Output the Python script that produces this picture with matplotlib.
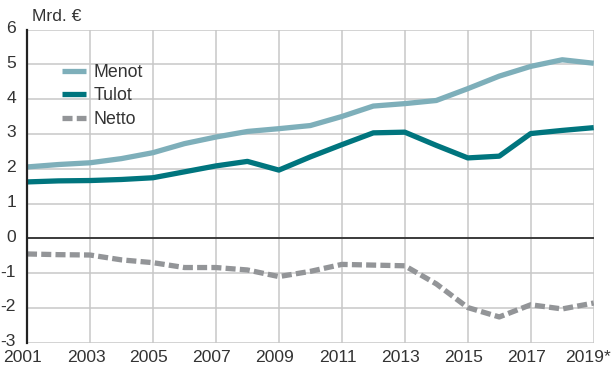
import matplotlib
matplotlib.use("Agg")
import matplotlib.pyplot as plt
from matplotlib.transforms import ScaledTranslation

years = list(range(2001, 2020))
menot = [2.05, 2.12, 2.17, 2.29, 2.46, 2.72, 2.91, 3.07, 3.15, 3.24,
         3.50, 3.80, 3.87, 3.96, 4.30, 4.66, 4.94, 5.13, 5.03]
tulot = [1.62, 1.65, 1.66, 1.69, 1.74, 1.91, 2.08, 2.21, 1.96, 2.34,
         2.69, 3.03, 3.05, 2.67, 2.31, 2.36, 3.01, 3.10, 3.18]
netto = [-0.45, -0.47, -0.48, -0.62, -0.70, -0.84, -0.84, -0.91, -1.10, -0.95,
         -0.75, -0.77, -0.79, -1.31, -1.99, -2.26, -1.91, -2.03, -1.86]
xtick_years = list(range(2001, 2020, 2))
xtick_labels = [str(y) for y in xtick_years[:-1]] + ["2019*"]
yticks = list(range(-3, 7))

plt.rcParams['font.family'] = ['Liberation Sans', 'DejaVu Sans']
plt.rcParams['axes.unicode_minus'] = False

fig = plt.figure(figsize=(6.13, 3.68), dpi=100)
ax = fig.add_axes([27 / 613, 1 - 342.7 / 368, (593.7 - 27) / 613, (342.7 - 29.5) / 368])

ax.plot(years, menot, color="#7eafba", lw=3.8, label="Menot", solid_capstyle="butt", zorder=3)
ax.plot(years, tulot, color="#00757e", lw=3.8, label="Tulot", solid_capstyle="butt", zorder=3)
ax.plot(years, netto, color="#939598", lw=3.8, label="Netto", dashes=(1.9, 0.8), zorder=3)

ax.set_xlim(2001, 2019)
ax.set_ylim(-3, 6)
ax.set_xticks(xtick_years)
ax.set_xticklabels(xtick_labels)
ax.set_yticks(yticks)
ax.grid(True, color="#c8c8c8", lw=1.1, zorder=0)
ax.axhline(0, color="#222222", lw=1.2, zorder=2)

for s in ["top", "right", "bottom"]:
    ax.spines[s].set_visible(False)
ax.spines["left"].set_color("#222222")
ax.spines["left"].set_linewidth(1.6)
ax.spines["left"].set_zorder(4)

ax.tick_params(axis="both", length=0, labelsize=12.6, colors="#333333")
ax.tick_params(axis="y", pad=8)
ax.tick_params(axis="x", pad=5.5)

# nudge x labels slightly left; keep the last one inside the figure
xlabels = ax.get_xticklabels()
for i, lab in enumerate(xlabels):
    if i == len(xlabels) - 1:
        lab.set_horizontalalignment("right")
        dx = 0.175
    else:
        dx = -0.04
    lab.set_transform(lab.get_transform() + ScaledTranslation(dx, 0, fig.dpi_scale_trans))

# y labels sit a touch above their gridlines
for lab in ax.get_yticklabels():
    lab.set_transform(lab.get_transform() + ScaledTranslation(0, 0.025, fig.dpi_scale_trans))

ax.text(5 / 566.7, 1.018, "Mrd. €", transform=ax.transAxes, fontsize=12.6,
        color="#333333", ha="left", va="bottom")

leg = ax.legend(loc="upper left", bbox_to_anchor=(0.061, 0.89), frameon=False,
                fontsize=12.8, handlelength=1.4, handletextpad=0.4,
                labelspacing=0.36, borderaxespad=0, borderpad=0)
for t in leg.get_texts():
    t.set_color("#333333")

fig.savefig("out.png", dpi=100)
